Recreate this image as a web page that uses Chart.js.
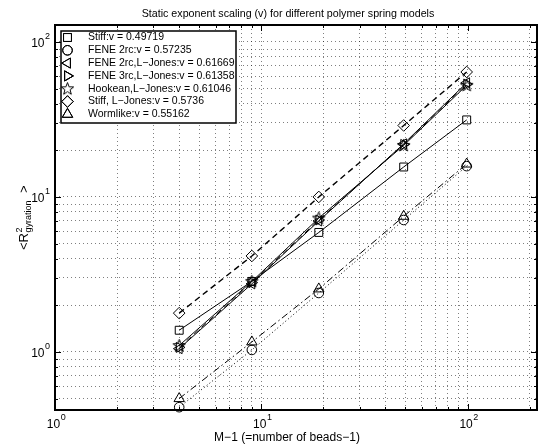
<!DOCTYPE html>
<html><head><meta charset="utf-8">
<script src="https://cdn.jsdelivr.net/npm/chart.js@4/dist/chart.umd.min.js"></script>
<style>html,body{margin:0;padding:0;background:#fff;}canvas{display:block;}</style>
</head><body>
<canvas id="c" width="544" height="444"></canvas>
<script>
// ---- data ----
const beads = [4, 9, 19, 49, 99];
const stiff      = [1.38, 2.85, 5.9, 15.6, 31.4];
const fene2rc    = [0.44, 1.03, 2.4, 7.1, 15.8];
const fene2rcLJ  = [1.05, 2.75, 7.0, 22.0, 54.5];
const fene3rcLJ  = [1.07, 2.8, 7.1, 21.8, 53.5];
const hookeanLJ  = [1.1, 2.85, 7.3, 21.5, 52.5];
const stiffLJ    = [1.78, 4.16, 10.0, 28.9, 64.0];
const wormlike   = [0.5, 1.16, 2.55, 7.5, 16.3];
const seriesLabels = [
  'Stiff:v = 0.49719',
  'FENE 2rc:v = 0.57235',
  'FENE 2rc,L\u2212Jones:v = 0.61669',
  'FENE 3rc,L\u2212Jones:v = 0.61358',
  'Hookean,L\u2212Jones:v = 0.61046',
  'Stiff, L\u2212Jones:v = 0.5736',
  'Wormlike:v = 0.55162'
];
const xGrid = [1,2,3,4,5,6,7,8,9,10,20,30,40,50,60,70,80,90,100,200];
const yGrid = [0.5,0.6,0.7,0.8,0.9,1,2,3,4,5,6,7,8,9,10,20,30,40,50,60,70,80,90,100];
const majorTicks = [1, 10, 100];
const majorExp = ['0', '1', '2'];
const titleText = 'Static exponent scaling (v) for different polymer spring models';
const xLabelText = 'M\u22121 (=number of beads\u22121)';

// ---- star marker image ----
function makeStar() {
  const c = document.createElement('canvas');
  c.width = 15; c.height = 15;
  const g = c.getContext('2d');
  g.strokeStyle = '#000'; g.lineWidth = 1;
  g.beginPath();
  for (let i = 0; i < 10; i++) {
    const r = (i % 2 === 0) ? 6.5 : 2.7;
    const a = -Math.PI / 2 + i * Math.PI / 5;
    const px = 7.5 + r * Math.cos(a), py = 7.8 + r * Math.sin(a);
    if (i === 0) g.moveTo(px, py); else g.lineTo(px, py);
  }
  g.closePath(); g.stroke();
  return c;
}
const starImg = makeStar();

const allSeries = [stiff, fene2rc, fene2rcLJ, fene3rcLJ, hookeanLJ, stiffLJ, wormlike];
const looks = [
  {ps: 'rect', rot: 0, r: 5.6, dash: [], lw: 1},
  {ps: 'circle', rot: 0, r: 4.8, dash: [1, 2.5], lw: 1},
  {ps: 'triangle', rot: 270, r: 5.8, dash: [], lw: 1},
  {ps: 'triangle', rot: 90, r: 5.8, dash: [6, 4], lw: 1},
  {ps: starImg, rot: 0, r: 6, dash: [], lw: 1},
  {ps: 'rectRot', rot: 0, r: 5.8, dash: [6, 4], lw: 1.4},
  {ps: 'triangle', rot: 0, r: 6, dash: [7, 3, 1.5, 3], lw: 1}
];

const datasets = allSeries.map((vals, i) => ({
  label: seriesLabels[i],
  data: beads.map((x, j) => ({x: x, y: vals[j]})),
  showLine: true,
  borderColor: '#000',
  borderWidth: looks[i].lw,
  borderDash: looks[i].dash,
  pointStyle: looks[i].ps,
  pointRotation: looks[i].rot,
  pointRadius: looks[i].r,
  pointBorderColor: '#000',
  pointBackgroundColor: 'rgba(0,0,0,0)',
  pointBorderWidth: 1,
  clip: false
}));

const FONT = '"Liberation Sans", Arial, Helvetica, sans-serif';

function drawMarker(ctx, look, x, y) {
  ctx.save();
  ctx.strokeStyle = '#000'; ctx.fillStyle = 'rgba(0,0,0,0)'; ctx.lineWidth = 1;
  ctx.setLineDash([]);
  if (Chart.helpers && Chart.helpers.drawPoint) {
    Chart.helpers.drawPoint(ctx, {pointStyle: look.ps, rotation: look.rot, radius: look.r, borderWidth: 1}, x, y);
    ctx.stroke();
  }
  ctx.restore();
}

const decor = {
  id: 'decor',
  beforeDraw(chart) {
    const ctx = chart.ctx;
    ctx.save(); ctx.fillStyle = '#fff'; ctx.fillRect(0, 0, chart.width, chart.height); ctx.restore();
  },
  afterDraw(chart) {
    const ctx = chart.ctx, a = chart.chartArea;
    const xs = chart.scales.x, ys = chart.scales.y;
    ctx.save();
    // tick marks inward
    ctx.strokeStyle = '#000'; ctx.lineWidth = 1; ctx.setLineDash([]);
    ctx.beginPath();
    xGrid.forEach(v => {
      const px = Math.round(xs.getPixelForValue(v)) + 0.5;
      const len = majorTicks.includes(v) ? 6 : 3;
      ctx.moveTo(px, a.bottom); ctx.lineTo(px, a.bottom - len);
      ctx.moveTo(px, a.top); ctx.lineTo(px, a.top + len);
    });
    yGrid.forEach(v => {
      const py = Math.round(ys.getPixelForValue(v)) + 0.5;
      const len = majorTicks.includes(v) ? 6 : 3;
      ctx.moveTo(a.left, py); ctx.lineTo(a.left + len, py);
      ctx.moveTo(a.right, py); ctx.lineTo(a.right - len, py);
    });
    ctx.stroke();
    // box
    ctx.lineWidth = 2;
    ctx.strokeRect(a.left, a.top, a.right - a.left, a.bottom - a.top);

    // tick labels
    ctx.fillStyle = '#000';
    majorTicks.forEach((v, i) => {
      // x
      const px = xs.getPixelForValue(v);
      ctx.font = '12px ' + FONT;
      const w10 = ctx.measureText('10').width;
      ctx.font = '9px ' + FONT;
      const we = ctx.measureText(majorExp[i]).width;
      const x0 = px - (w10 + we) / 2 + 1;
      ctx.font = '12px ' + FONT; ctx.textAlign = 'left'; ctx.textBaseline = 'alphabetic';
      ctx.fillText('10', x0, 428);
      ctx.font = '9px ' + FONT;
      ctx.fillText(majorExp[i], x0 + w10 + 0.5, 420);
      // y
      const py = ys.getPixelForValue(v);
      ctx.font = '9px ' + FONT;
      const ex = a.left - 5 - we;
      ctx.fillText(majorExp[i], ex, py - 3);
      ctx.font = '12px ' + FONT;
      ctx.fillText('10', ex - w10 - 0.5, py + 5);
    });

    // title
    ctx.font = '10.7px ' + FONT; ctx.textAlign = 'center'; ctx.textBaseline = 'alphabetic';
    ctx.fillText(titleText, 288, 17);
    // x label
    ctx.font = '12px ' + FONT;
    ctx.fillText(xLabelText, 287, 441);
    // y label
    ctx.save();
    ctx.translate(28, 250); ctx.rotate(-Math.PI / 2);
    ctx.textAlign = 'left';
    ctx.font = '13px ' + FONT;
    ctx.fillText('<R', 0, 0);
    const wR = ctx.measureText('<R').width;
    ctx.font = '9px ' + FONT;
    ctx.fillText('2', wR + 0.5, -6);
    ctx.fillText('gyration', wR + 0.5, 3);
    const wg = ctx.measureText('gyration').width;
    ctx.font = '13px ' + FONT;
    ctx.fillText('>', wR + wg + 8, 0);
    ctx.restore();

    // legend
    const lx = 61, ly = 31, lw = 175, lh = 92;
    ctx.fillStyle = '#fff';
    ctx.fillRect(lx, ly, lw, lh);
    ctx.strokeStyle = '#000'; ctx.lineWidth = 1.5;
    ctx.strokeRect(lx, ly, lw, lh);
    ctx.font = '10.5px ' + FONT; ctx.textAlign = 'left'; ctx.textBaseline = 'middle';
    seriesLabels.forEach((lab, i) => {
      const y = 37.5 + i * 12.8;
      drawMarker(ctx, looks[i], 67.5, y);
      ctx.fillStyle = '#000';
      ctx.fillText(lab, 88, y);
    });
    ctx.restore();
  }
};

new Chart(document.getElementById('c'), {
  type: 'scatter',
  data: {datasets: datasets},
  options: {
    responsive: false,
    animation: false,
    devicePixelRatio: 1,
    layout: {padding: {left: 55, right: 3, top: 25, bottom: 34}},
    plugins: {legend: {display: false}, title: {display: false}, tooltip: {enabled: false}},
    scales: {
      x: {
        type: 'logarithmic', min: 1, max: 217,
        afterBuildTicks: s => { s.ticks = xGrid.map(v => ({value: v})); },
        ticks: {display: false},
        grid: {color: 'rgba(0,0,0,0.5)', lineWidth: 1, drawTicks: false},
        border: {display: false, dash: [1, 3]}
      },
      y: {
        type: 'logarithmic', min: 0.422, max: 128.6,
        afterBuildTicks: s => { s.ticks = yGrid.map(v => ({value: v})); },
        ticks: {display: false},
        grid: {color: 'rgba(0,0,0,0.5)', lineWidth: 1, drawTicks: false},
        border: {display: false, dash: [1, 3]}
      }
    }
  },
  plugins: [decor]
});
</script>
</body></html>
